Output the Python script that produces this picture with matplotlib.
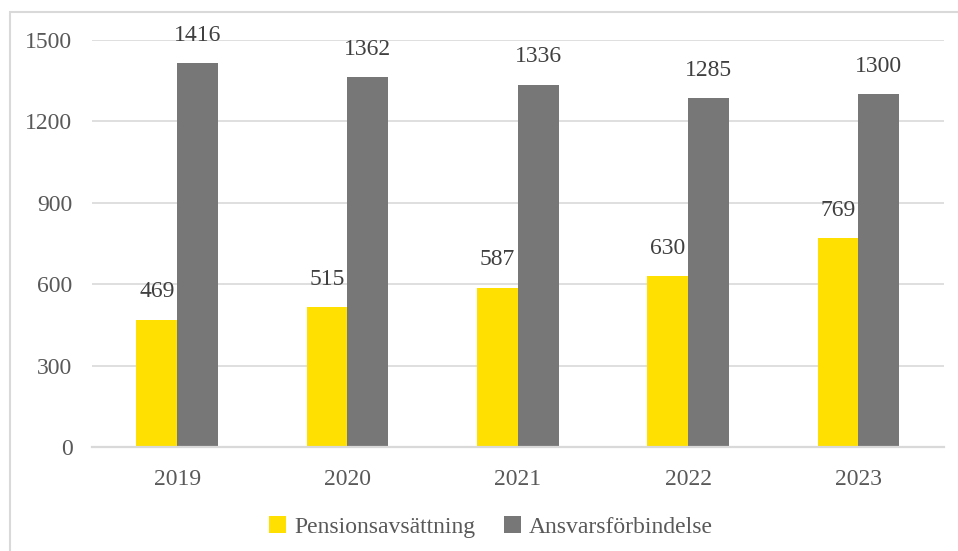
import matplotlib.pyplot as plt
import matplotlib.patches as mpatches
import numpy as np

years = ["2019", "2020", "2021", "2022", "2023"]
pension = [469, 515, 587, 630, 769]
ansvar = [1416, 1362, 1336, 1285, 1300]
yticks = [0, 300, 600, 900, 1200, 1500]

plt.rcParams['font.family'] = ['Liberation Serif', 'DejaVu Serif']
fs = 17

fig = plt.figure(figsize=(9.58, 5.51), dpi=100)
ax = fig.add_axes([0.096, 0.1887, 0.889, 0.7387])

x = np.arange(len(years))
w = 0.24
b1 = ax.bar(x - w / 2, pension, w, color="#FFE000", label="Pensionsavsättning", zorder=2)
b2 = ax.bar(x + w / 2, ansvar, w, color="#777777", label="Ansvarsförbindelse", zorder=2)

for bars in (b1, b2):
    for rect in bars:
        h = rect.get_height()
        ax.annotate(f"{h:.0f}", (rect.get_x() + rect.get_width() / 2, h),
                    xytext=(0, 20), textcoords="offset points",
                    ha="center", va="center", fontsize=fs, color="#404040")

ax.set_xlim(-0.5, len(years) - 0.5)
ax.set_ylim(0, 1500)
ax.set_yticks(yticks)
ax.set_xticks(x)
ax.set_xticklabels(years)
ax.tick_params(axis="both", length=0, labelsize=fs, labelcolor="#595959")
ax.tick_params(axis="y", pad=14)
ax.tick_params(axis="x", pad=16)
ax.yaxis.grid(True, color="#d9d9d9", linewidth=1.2, zorder=0)
ax.set_axisbelow(True)
for s in ("top", "right", "left"):
    ax.spines[s].set_visible(False)
ax.spines["bottom"].set_color("#d9d9d9")
ax.spines["bottom"].set_linewidth(1.6)

fig.legend(handles=[b1, b2], loc="center", bbox_to_anchor=(0.5125, 1 - 527 / 551),
           ncol=2, frameon=False, fontsize=fs, handlelength=0.72, handleheight=0.72,
           handletextpad=0.35, columnspacing=1.2, labelcolor="#595959")

# light frame around the chart area
frame = mpatches.Rectangle((10 / 958, -0.1), 1.1, 1 - 12 / 551 + 0.1,
                           transform=fig.transFigure, fill=False,
                           edgecolor="#d9d9d9", linewidth=1.5, clip_on=False)
fig.patches.append(frame)

fig.savefig("out.png", dpi=100)
